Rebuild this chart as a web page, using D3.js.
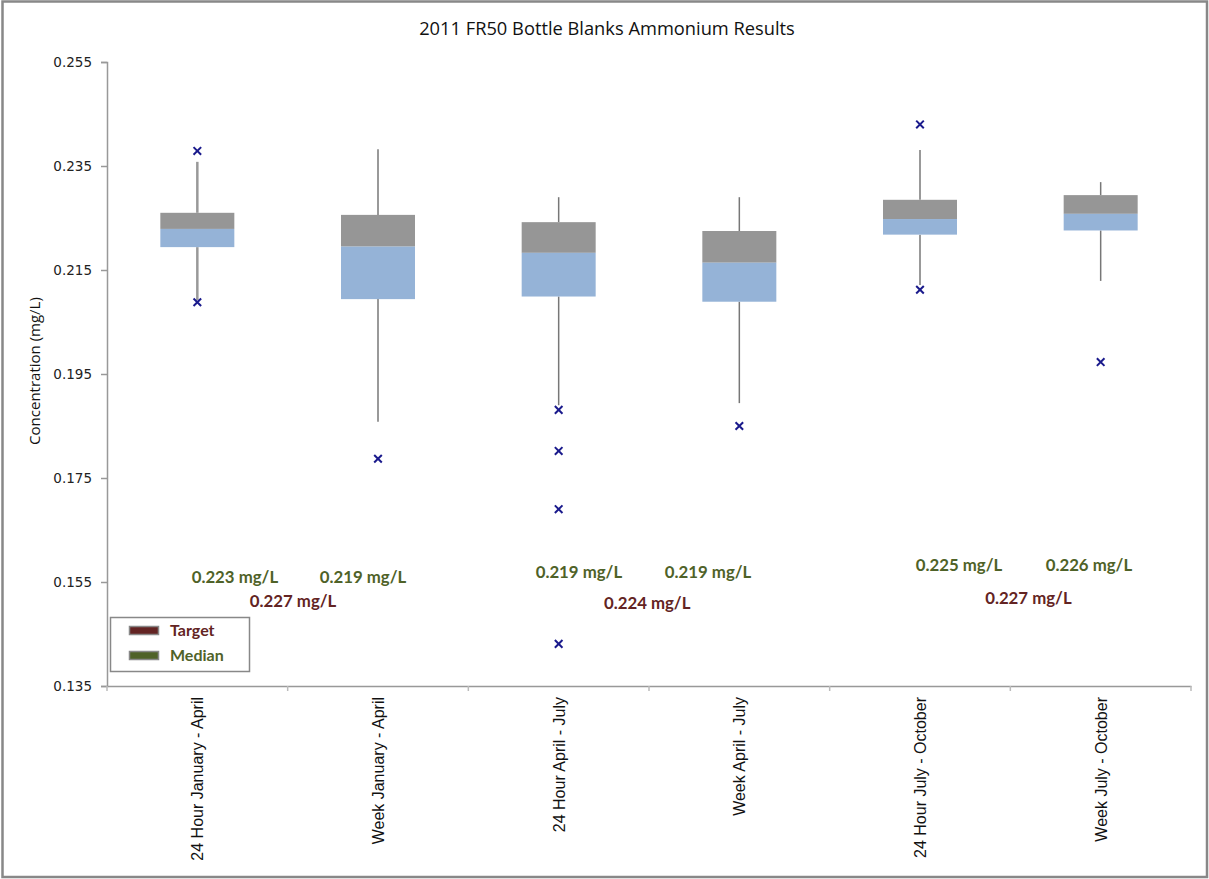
<!DOCTYPE html>
<html><head><meta charset="utf-8">
<script src="https://cdn.jsdelivr.net/npm/d3@7"></script>
<style>body{margin:0;background:#fff;}svg{display:block;}</style>
</head><body>
<svg id="c" width="1209" height="879"></svg>
<script>
const categories = ["24 Hour January - April","Week January - April","24 Hour April - July","Week April - July","24 Hour July - October","Week July - October"];
const whiskerLow  = [0.2092, 0.1858, 0.1890, 0.1894, 0.2121, 0.2129];
const q1          = [0.2194, 0.2094, 0.2099, 0.2089, 0.2218, 0.2226];
const median      = [0.2229, 0.2195, 0.2183, 0.2164, 0.2248, 0.2258];
const q3          = [0.2260, 0.2256, 0.2242, 0.2225, 0.2285, 0.2294];
const whiskerHigh = [0.2358, 0.2382, 0.2290, 0.2290, 0.2381, 0.2319];
const outliers = [[0.2379, 0.2088],[0.1787],[0.1881, 0.1802, 0.1690, 0.1431],[0.1850],[0.2430, 0.2112],[0.1973]];
const medianLabels = ["0.223 mg/L","0.219 mg/L","0.219 mg/L","0.219 mg/L","0.225 mg/L","0.226 mg/L"];
const medianLabelPos = [0.708, 1.417, 2.612, 3.327, 4.716, 5.435];   // position in category units
const medianLabelY = [0.1548, 0.1548, 0.1558, 0.1558, 0.1571, 0.1571];
const targetLabels = ["0.227 mg/L","0.224 mg/L","0.227 mg/L"];
const targetLabelPos = [1.03, 2.99, 5.10];
const targetLabelY = [0.1502, 0.1498, 0.1508];
const yTicks = [0.135,0.155,0.175,0.195,0.215,0.235,0.255];

const svg = d3.select("#c");
svg.append("rect").attr("x",2.5).attr("y",1.5).attr("width",1204.5).attr("height",875.5)
  .attr("fill","#fff").attr("stroke","#888").attr("stroke-width",2.5);

const x = d3.scaleBand().domain(categories).range([107,1191]).paddingInner(0).paddingOuter(0);
const xu = d3.scaleLinear().domain([0,categories.length]).range([107,1191]);
const y = d3.scaleLinear().domain([0.135,0.255]).range([686,62]);
const bw = 74;

svg.append("text").attr("x",607).attr("y",35).attr("text-anchor","middle")
  .attr("font-family","Open Sans").attr("font-size",18.3).attr("fill","#111")
  .text("2011 FR50 Bottle Blanks Ammonium Results");

// y axis
const ya = svg.append("g").attr("transform","translate(107,0)")
  .call(d3.axisLeft(y).tickValues(yTicks).tickFormat(d3.format(".3f")).tickSize(6).tickPadding(9));
ya.select(".domain").attr("stroke","#999").attr("stroke-width",1.5);
ya.selectAll(".tick line").attr("stroke","#999").attr("stroke-width",1.5);
ya.selectAll(".tick text").attr("font-family","DejaVu Sans").attr("font-size",13.5).attr("fill","#222");

svg.append("text").attr("transform","translate(40,371) rotate(-90)").attr("text-anchor","middle")
  .attr("font-family","Open Sans").attr("font-size",15).attr("fill","#111").text("Concentration (mg/L)");

// x axis
const xa = svg.append("g").attr("transform","translate(0,686)")
  .call(d3.axisBottom(x).tickSize(0).tickFormat(""));
xa.select(".domain").attr("stroke","#999").attr("stroke-width",1.5);
const bounds = d3.range(categories.length+1).map(i => xu(i));
svg.selectAll(".xt").data(bounds).join("line").attr("x1",d=>d).attr("x2",d=>d)
  .attr("y1",686).attr("y2",691).attr("stroke","#bbb").attr("stroke-width",1.5);
svg.selectAll(".xl").data(categories).join("text")
  .attr("transform",d=>`translate(${x(d)+x.bandwidth()/2+6},697) rotate(-90)`)
  .attr("text-anchor","end").attr("font-family","Liberation Sans").attr("font-size",16).attr("fill","#111")
  .text(d=>d);

// boxes
const g = svg.append("g");
categories.forEach((c,i)=>{
  const cx = x(c)+x.bandwidth()/2;
  g.append("line").attr("x1",cx).attr("x2",cx).attr("y1",y(whiskerHigh[i])).attr("y2",y(q3[i]))
    .attr("stroke", i===0?"#999":"#777").attr("stroke-width", i===0?2.5:1.5);
  g.append("line").attr("x1",cx).attr("x2",cx).attr("y1",y(q1[i])).attr("y2",y(whiskerLow[i]))
    .attr("stroke", i===0?"#999":"#777").attr("stroke-width", i===0?2.5:1.5);
  g.append("rect").attr("x",cx-bw/2).attr("width",bw).attr("y",y(q3[i])).attr("height",y(median[i])-y(q3[i]))
    .attr("fill","#969696");
  g.append("rect").attr("x",cx-bw/2).attr("width",bw).attr("y",y(median[i])).attr("height",y(q1[i])-y(median[i]))
    .attr("fill","#95B3D7");
  outliers[i].forEach(v=>{
    const py = y(v), s=3.8;
    g.append("path").attr("d",`M${cx-s},${py-s}L${cx+s},${py+s}M${cx-s},${py+s}L${cx+s},${py-s}`)
      .attr("stroke","#1a1a8c").attr("stroke-width",2);
  });
});
svg.selectAll(".ml").data(medianLabels).join("text")
  .attr("x",(d,i)=>xu(medianLabelPos[i])).attr("y",(d,i)=>y(medianLabelY[i])).attr("text-anchor","middle")
  .attr("font-family","Lato").attr("font-weight","bold").attr("font-size",16.8).attr("fill","#4F6228")
  .text(d=>d);
svg.selectAll(".tl").data(targetLabels).join("text")
  .attr("x",(d,i)=>xu(targetLabelPos[i])).attr("y",(d,i)=>y(targetLabelY[i])).attr("text-anchor","middle")
  .attr("font-family","Lato").attr("font-weight","bold").attr("font-size",16.8).attr("fill","#632423")
  .text(d=>d);

// legend
const lg = svg.append("g");
lg.append("rect").attr("x",110.5).attr("y",617.5).attr("width",139).attr("height",54)
  .attr("fill","#fff").attr("stroke","#888").attr("stroke-width",1.5);
[["Target","#632423"],["Median","#4F6228"]].forEach((d,i)=>{
  lg.append("rect").attr("x",129.5).attr("y",626.5+i*25).attr("width",29).attr("height",8)
    .attr("fill",d[1]).attr("stroke","#888").attr("stroke-width",1.5);
  lg.append("text").attr("x",170).attr("y",636+i*25).attr("font-family","Lato").attr("font-weight","bold")
    .attr("font-size",16).attr("fill",d[1]).text(d[0]);
});
</script>
</body></html>
